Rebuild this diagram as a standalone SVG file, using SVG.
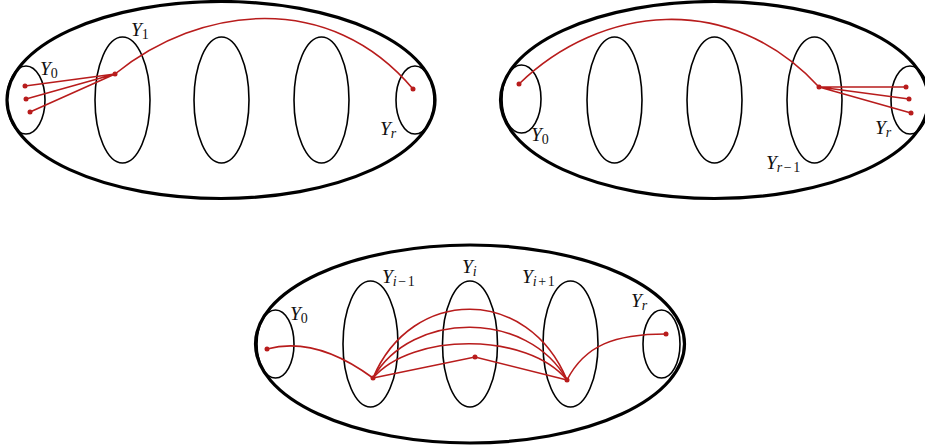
<svg xmlns="http://www.w3.org/2000/svg" width="925" height="448" viewBox="0 0 925 448">
<style>
.outer{fill:none;stroke:#000;stroke-width:3.2}
.inner{fill:none;stroke:#000;stroke-width:1.6}
.red{fill:none;stroke:#b81c1c;stroke-width:1.6}
.dot{fill:#b81c1c}
.lbl{font-family:"Liberation Serif","DejaVu Serif",serif;font-style:italic;font-size:19.5px;fill:#111}
.sub{font-size:14px}
.up{font-style:normal}
</style>
<rect width="925" height="448" fill="#fff"/>
<g id="diagram-left">
<ellipse class="outer" cx="221" cy="100" rx="214" ry="98.5"/>
<ellipse id="tl-Y0" class="inner" cx="26" cy="100" rx="19" ry="34"/>
<ellipse id="tl-Y1" class="inner" cx="122.5" cy="100" rx="27.5" ry="63"/>
<ellipse class="inner" cx="221.5" cy="100" rx="27.5" ry="63"/>
<ellipse class="inner" cx="321.5" cy="100" rx="27.5" ry="63"/>
<ellipse id="tl-Yr" class="inner" cx="415" cy="100" rx="19" ry="34"/>
<text class="lbl" x="40" y="75">Y<tspan class="sub up" dy="3">0</tspan></text>
<text class="lbl" x="131" y="36">Y<tspan class="sub up" dy="3">1</tspan></text>
<text class="lbl" x="380" y="135">Y<tspan class="sub" dy="3">r</tspan></text>
</g>
<g id="diagram-right">
<ellipse class="outer" cx="714.5" cy="100" rx="214" ry="98.5"/>
<ellipse id="tr-Y0" class="inner" cx="521.5" cy="99" rx="19.5" ry="34"/>
<ellipse class="inner" cx="614.5" cy="100" rx="27.5" ry="63"/>
<ellipse class="inner" cx="714.5" cy="100" rx="27.5" ry="63"/>
<ellipse id="tr-Yr1" class="inner" cx="814.5" cy="100" rx="27.5" ry="63"/>
<ellipse id="tr-Yr" class="inner" cx="910" cy="100" rx="19" ry="34"/>
<text class="lbl" x="531" y="141">Y<tspan class="sub up" dy="3">0</tspan></text>
<text class="lbl" x="766" y="169">Y<tspan class="sub" dy="3">r</tspan><tspan class="sub up" dx="1.5">−</tspan><tspan class="sub up" dx="1.5">1</tspan></text>
<text class="lbl" x="875" y="134">Y<tspan class="sub" dy="3">r</tspan></text>
</g>
<g id="diagram-bottom">
<ellipse class="outer" cx="470" cy="344" rx="214.5" ry="99"/>
<ellipse id="b-Y0" class="inner" cx="275.5" cy="344" rx="18.5" ry="34"/>
<ellipse id="b-Yim1" class="inner" cx="370.5" cy="344" rx="27.5" ry="63"/>
<ellipse id="b-Yi" class="inner" cx="470" cy="344" rx="27.5" ry="63"/>
<ellipse id="b-Yip1" class="inner" cx="570.5" cy="344" rx="27.5" ry="63"/>
<ellipse id="b-Yr" class="inner" cx="661.5" cy="344" rx="18.5" ry="34"/>
<text class="lbl" x="290" y="320">Y<tspan class="sub up" dy="3">0</tspan></text>
<text class="lbl" x="382" y="283">Y<tspan class="sub" dy="3">i</tspan><tspan class="sub up" dx="1.5">−</tspan><tspan class="sub up" dx="1.5">1</tspan></text>
<text class="lbl" x="462" y="273">Y<tspan class="sub" dy="3">i</tspan></text>
<text class="lbl" x="522" y="283">Y<tspan class="sub" dy="3">i</tspan><tspan class="sub up" dx="1.5">+</tspan><tspan class="sub up" dx="1.5">1</tspan></text>
<text class="lbl" x="631" y="307">Y<tspan class="sub" dy="3">r</tspan></text>
</g>
<g id="connectors">
<path class="red" d="M25,86 L115,74 M26,99 L115,74 M30,112 L115,74"/>
<path class="red" d="M115,74 C200,5 330,-10 413,89"/>
<path class="red" d="M519,84 C600,5 730,-10 819,87"/>
<path class="red" d="M819,87 L906,87 M819,87 L909,99 M819,87 L911,113"/>
<path class="red" d="M267,349 C300,340 335,350 373,378"/>
<path class="red" d="M373,378 L475,357 L567,380"/>
<path class="red" d="M373,378 C412,286 528,286 567,380"/>
<path class="red" d="M373,378 C412,310 528,310 567,380"/>
<path class="red" d="M373,378 C412,332 528,332 567,380"/>
<path class="red" d="M567,380 C585,345 615,334 666,334"/>
</g>
<g id="dots">
<circle class="dot" cx="25" cy="86" r="2.5"/>
<circle class="dot" cx="26" cy="99" r="2.5"/>
<circle class="dot" cx="30" cy="112" r="2.5"/>
<circle class="dot" cx="115" cy="74" r="2.5"/>
<circle class="dot" cx="413" cy="89" r="2.5"/>
<circle class="dot" cx="519" cy="84" r="2.5"/>
<circle class="dot" cx="819" cy="87" r="2.5"/>
<circle class="dot" cx="906" cy="87" r="2.5"/>
<circle class="dot" cx="909" cy="99" r="2.5"/>
<circle class="dot" cx="911" cy="113" r="2.5"/>
<circle class="dot" cx="267" cy="349" r="2.5"/>
<circle class="dot" cx="373" cy="378" r="2.5"/>
<circle class="dot" cx="475" cy="357" r="2.5"/>
<circle class="dot" cx="567" cy="380" r="2.5"/>
<circle class="dot" cx="666" cy="334" r="2.5"/>
</g>
</svg>
